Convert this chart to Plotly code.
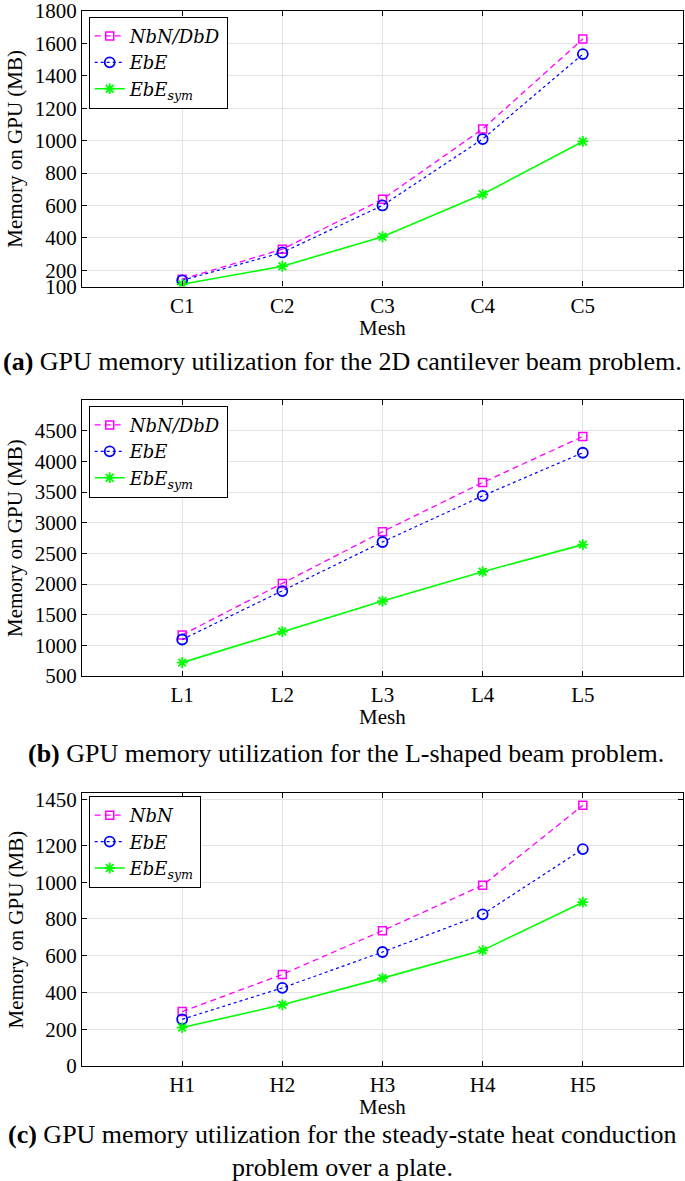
import plotly.graph_objects as go

# ---------------- data ----------------
mesh_a = ["C1", "C2", "C3", "C4", "C5"]
nbn_a = [145, 330, 638, 1072, 1627]
ebe_a = [138, 310, 600, 1010, 1534]
sym_a = [114, 225, 407, 669, 995]
yticks_a = [100, 200, 400, 600, 800, 1000, 1200, 1400, 1600, 1800]

mesh_b = ["L1", "L2", "L3", "L4", "L5"]
nbn_b = [1170, 2010, 2852, 3655, 4405]
ebe_b = [1095, 1885, 2685, 3437, 4140]
sym_b = [718, 1225, 1722, 2201, 2642]
yticks_b = [500, 1000, 1500, 2000, 2500, 3000, 3500, 4000, 4500]

mesh_c = ["H1", "H2", "H3", "H4", "H5"]
nbn_c = [296, 498, 736, 983, 1418]
ebe_c = [254, 425, 620, 825, 1180]
sym_c = [209, 333, 478, 629, 891]
yticks_c = [0, 200, 400, 600, 800, 1000, 1200, 1450]

names_ab = ["<i>NbN/DbD</i>", "<i>EbE</i>", "<i>EbE</i><sub><i>sym</i></sub>"]
names_c = ["<i>NbN</i>", "<i>EbE</i>", "<i>EbE</i><sub><i>sym</i></sub>"]

captions = [
    "<b>(a)</b> GPU memory utilization for the 2D cantilever beam problem.",
    "<b>(b)</b> GPU memory utilization for the L-shaped beam problem.",
    "<b>(c)</b> GPU memory utilization for the steady-state heat conduction",
    "problem over a plate.",
]

# ---------------- layout geometry (pixels) ----------------
W, H = 685, 1181
FONT = "Liberation Serif, DejaVu Serif, serif"
LEG_FONT = "DejaVu Serif, serif"
x0, x1 = 82, 683
panels = [
    dict(top=11, bot=286.5, yr=[100, 1800], mesh=mesh_a, vals=(nbn_a, ebe_a, sym_a),
         ticks=yticks_a, names=names_ab, leg_top=16.7),
    dict(top=400, bot=676, yr=[500, 5000], mesh=mesh_b, vals=(nbn_b, ebe_b, sym_b),
         ticks=yticks_b, names=names_ab, leg_top=405.7),
    dict(top=793, bot=1066, yr=[0, 1485], mesh=mesh_c, vals=(nbn_c, ebe_c, sym_c),
         ticks=yticks_c, names=names_c, leg_top=796),
]


def px(v):
    return v / W


def py(v):
    return 1 - v / H


styles = [
    dict(line=dict(color="#FF00FF", dash="6px,4px", width=1.3),
         marker=dict(symbol="square-open", size=8, color="#FF00FF", line=dict(width=1.5))),
    dict(line=dict(color="#0000FF", dash="dot", width=1.2),
         marker=dict(symbol="circle-open", size=10, color="#0000FF", line=dict(width=1.8))),
    dict(line=dict(color="#00FF00", width=1.6),
         marker=dict(symbol="asterisk-open", size=9, color="#00FF00", line=dict(width=1.8))),
]

fig = go.Figure()
layout = dict(
    width=W, height=H, margin=dict(l=0, r=0, t=0, b=0, autoexpand=False),
    paper_bgcolor="white", plot_bgcolor="white",
    font=dict(family=FONT, size=20, color="black"),
    annotations=[],
)

for i, p in enumerate(panels):
    suf = "" if i == 0 else str(i + 1)
    leg = "legend" if i == 0 else f"legend{i + 1}"
    for j in range(3):
        fig.add_trace(go.Scatter(
            x=p["mesh"], y=p["vals"][j], name=p["names"][j], mode="lines+markers",
            xaxis="x" + suf, yaxis="y" + suf, legend=leg, **styles[j]))
    common = dict(showline=True, linecolor="black", linewidth=1.2, mirror="ticks",
                  ticks="inside", ticklen=5, tickwidth=1, tickcolor="black",
                  showgrid=True, gridcolor="#e3e3e3", gridwidth=1, zeroline=False,
                  automargin=False, ticklabeloverflow="allow",
                  tickfont=dict(family=FONT, size=21, color="black"))
    layout["xaxis" + suf] = dict(domain=[px(x0), px(x1)], anchor="y" + suf,
                                 type="category", range=[-1, 5], **common)
    layout["yaxis" + suf] = dict(domain=[py(p["bot"]), py(p["top"])], anchor="x" + suf,
                                 range=p["yr"], tickvals=p["ticks"], **common)
    layout[leg] = dict(x=px(88.7), y=py(p["leg_top"]), xanchor="left", yanchor="top",
                       bgcolor="white", bordercolor="black", borderwidth=1,
                       font=dict(family=LEG_FONT, size=18, color="black"),
                       tracegroupgap=0)
    # axis titles
    layout["annotations"].append(dict(
        text="Memory on GPU (MB)", textangle=-90, xref="paper", yref="paper",
        x=px(15), y=py((p["top"] + p["bot"]) / 2), showarrow=False,
        xanchor="center", yanchor="middle", font=dict(family=FONT, size=21)))
    layout["annotations"].append(dict(
        text="Mesh", xref="paper", yref="paper",
        x=px((x0 + x1) / 2), y=py(p["bot"] + 41), showarrow=False,
        xanchor="center", yanchor="middle", font=dict(family=FONT, size=21)))

cap_pos = [(342, 361), (346, 753), (342, 1134), (342, 1167)]
for text, (cx, cy) in zip(captions, cap_pos):
    layout["annotations"].append(dict(
        text=text, xref="paper", yref="paper", x=px(cx), y=py(cy), showarrow=False,
        xanchor="center", yanchor="middle", font=dict(family=FONT, size=26)))

fig.update_layout(**layout)
# remove the browser's default 8px page margin so the figure fills the window exactly
fig.write_html("out.html", config={"displayModeBar": False},
               post_script="document.body.style.margin='0';document.body.style.padding='0';")
